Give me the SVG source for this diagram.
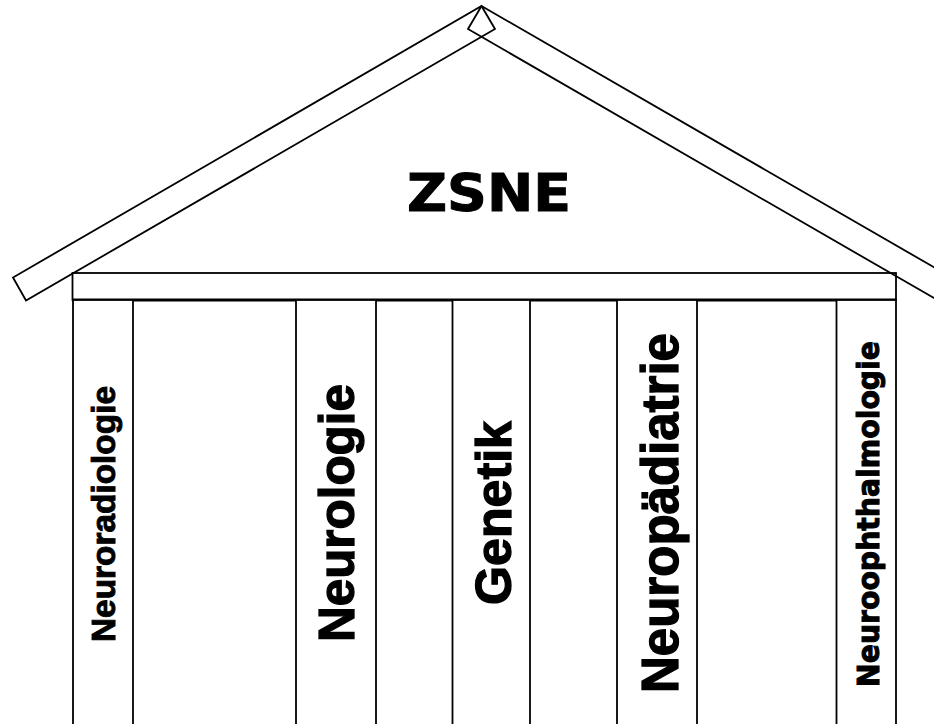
<svg xmlns="http://www.w3.org/2000/svg" width="934" height="724" viewBox="0 0 934 724">
  <style>
    .ln { fill: none; stroke: #000; stroke-width: 1.8; }
    .col { fill: #fff; stroke: #000; stroke-width: 1.8; }
    .lbl { font-family: "Liberation Sans", Arial, sans-serif; font-weight: 700; fill: #000; stroke: #000; stroke-width: 1.3; }
    .sm { stroke-width: 0.9; }
    .vd { font-family: "DejaVu Sans", Verdana, sans-serif; font-weight: 700; fill: #000; stroke: #000; stroke-width: 1; }
  </style>
  <rect width="934" height="724" fill="#fff"/>
  <g id="roof">
    <polygon class="ln" points="481.5,6 495,29 26,300.5 13,277.5"/>
    <polygon class="ln" points="481.5,6 1000,305.4 986.5,328.4 468,29"/>
  </g>
  <g id="beam">
    <rect class="ln" x="72.5" y="273" width="823.5" height="27"/>
    <line x1="72.5" y1="300" x2="896" y2="300" stroke="#000" stroke-width="3.2"/>
  </g>
  <g id="title">
    <text class="vd" x="489" y="211" font-size="52" text-anchor="middle" textLength="164" lengthAdjust="spacingAndGlyphs">ZSNE</text>
  </g>
  <g id="connectors"></g>
  <g id="col-neuroradiologie">
    <rect class="col" x="73" y="300" width="60" height="440"/>
    <text class="lbl sm" transform="translate(115,642) rotate(-90)" font-size="33" textLength="256" lengthAdjust="spacingAndGlyphs">Neuroradiologie</text>
  </g>
  <g id="col-neurologie">
    <rect class="col" x="296" y="300" width="80" height="440"/>
    <text class="lbl" transform="translate(354,642) rotate(-90)" font-size="49.6" textLength="258" lengthAdjust="spacingAndGlyphs">Neurologie</text>
  </g>
  <g id="col-genetik">
    <rect class="col" x="452.5" y="300" width="77.5" height="440"/>
    <text class="lbl" transform="translate(510.5,605) rotate(-90)" font-size="50.4" textLength="184" lengthAdjust="spacingAndGlyphs">Genetik</text>
  </g>
  <g id="col-neuropaediatrie">
    <rect class="col" x="617" y="300" width="80" height="440"/>
    <text class="lbl" transform="translate(677.5,693) rotate(-90)" font-size="51" textLength="360" lengthAdjust="spacingAndGlyphs">Neuropädiatrie</text>
  </g>
  <g id="col-neuroophthalmologie">
    <rect class="col" x="836.5" y="300" width="59.5" height="440"/>
    <text class="vd sm" transform="translate(879,687) rotate(-90)" font-size="30" textLength="346" lengthAdjust="spacingAndGlyphs">Neuroophthalmologie</text>
  </g>
</svg>
